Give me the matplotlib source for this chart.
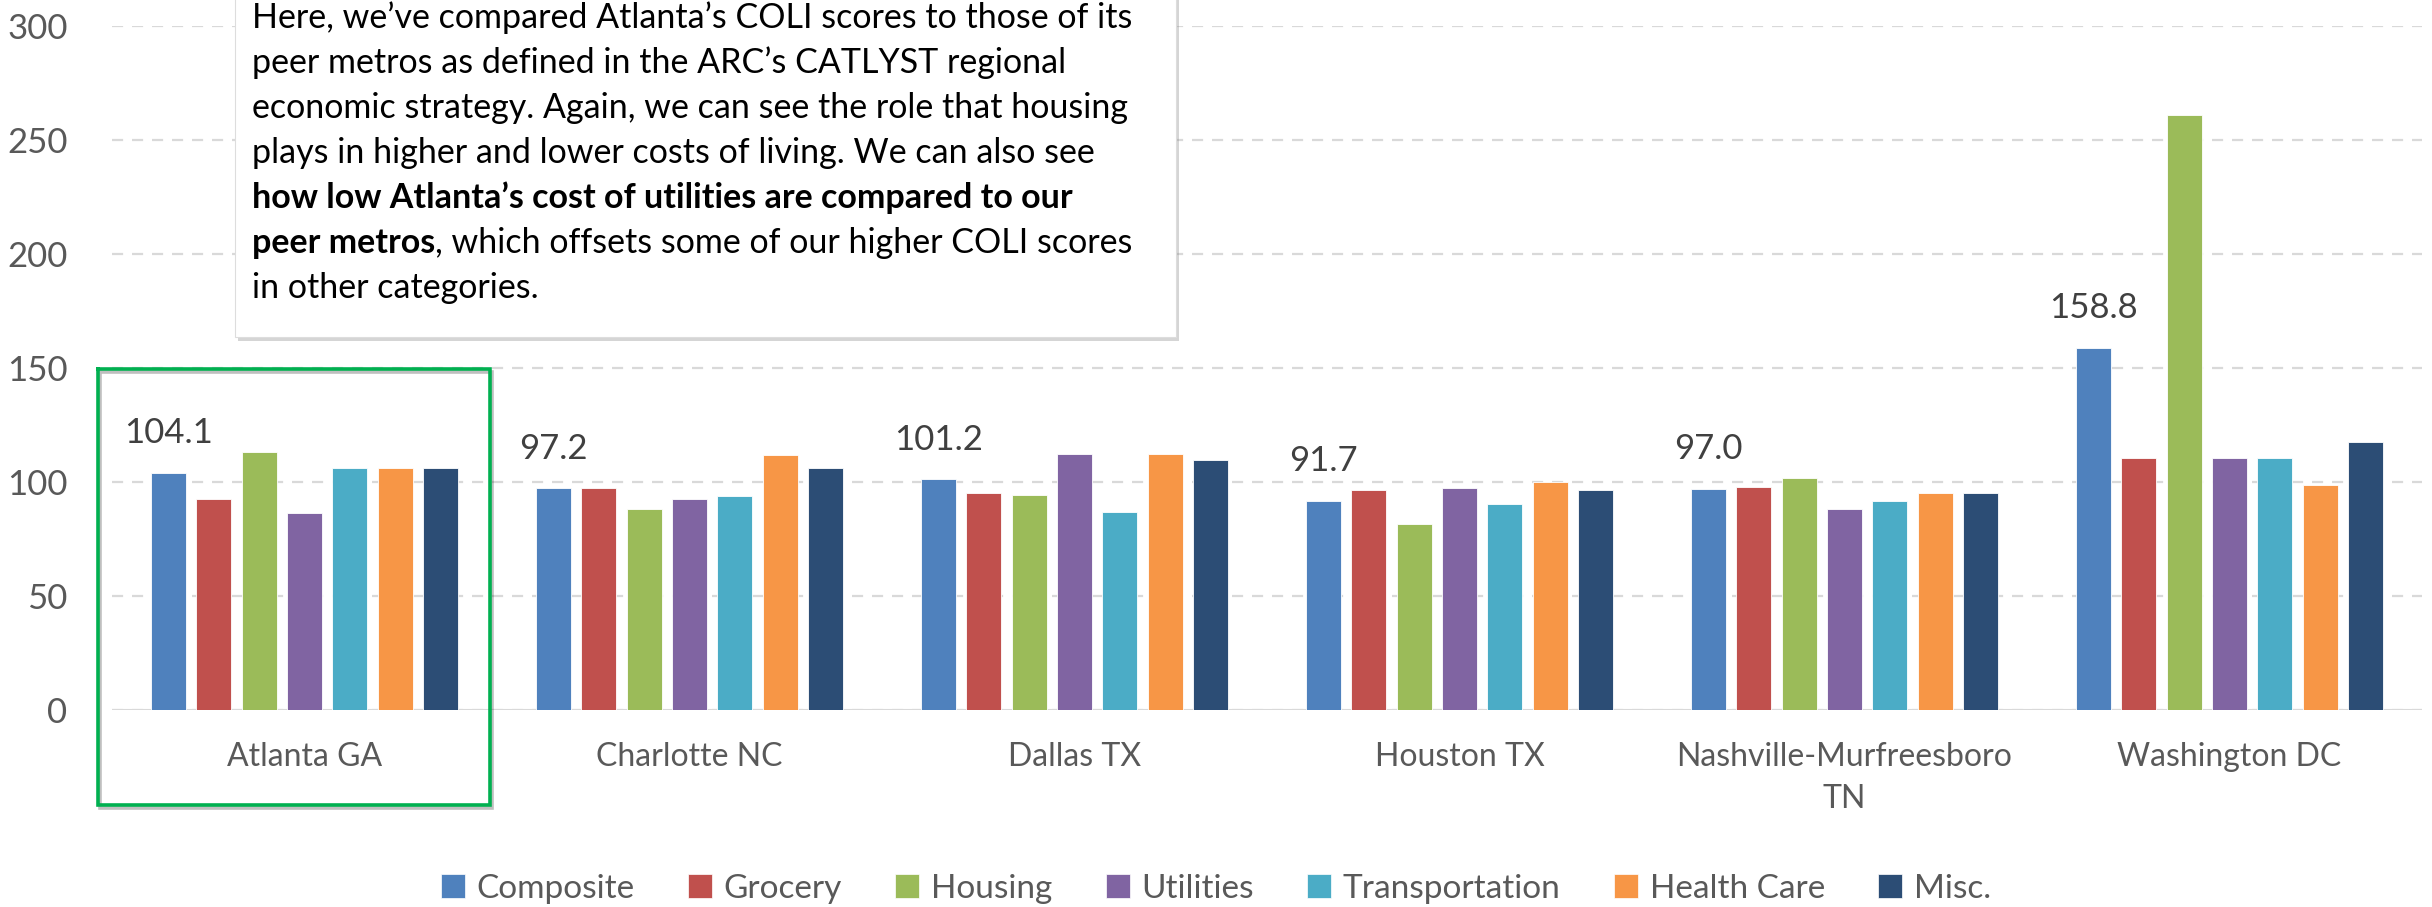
import numpy as np
import matplotlib
matplotlib.use("Agg")
import matplotlib.pyplot as plt
import matplotlib.patheffects as pe
from matplotlib.patches import Rectangle, Patch
from matplotlib.lines import Line2D

plt.rcParams['font.family'] = ['Lato', 'DejaVu Sans']

metros = ["Atlanta GA", "Charlotte NC", "Dallas TX", "Houston TX",
          "Nashville-Murfreesboro\nTN", "Washington DC"]
series = ["Composite", "Grocery", "Housing", "Utilities",
          "Transportation", "Health Care", "Misc."]
composite = [104.1, 97.2, 101.2, 91.7, 97.0, 158.8]
grocery = [92.4, 97.4, 95.3, 96.5, 97.8, 110.7]
housing = [113.1, 88.3, 94.5, 81.6, 101.9, 260.9]
utilities = [86.3, 92.4, 112.4, 97.4, 88.1, 110.7]
transportation = [106.3, 93.9, 86.9, 90.5, 91.5, 110.7]
health_care = [106.3, 111.7, 112.4, 100.0, 95.0, 98.6]
misc = [106.3, 106.3, 109.8, 96.5, 95.0, 117.6]
colors = ["#4F81BD", "#C0504D", "#9BBB59", "#8064A2",
          "#4BACC6", "#F79646", "#2C4D75"]

note_lines = [
    "Here, we\u2019ve compared Atlanta\u2019s COLI scores to those of its",
    "peer metros as defined in the ARC\u2019s CATLYST regional",
    "economic strategy. Again, we can see the role that housing",
    "plays in higher and lower costs of living. We can also see",
]
note_bold = "how low Atlanta\u2019s cost of utilities are compared to our"
note_bold2 = "peer metros"
note_rest = ", which offsets some of our higher COLI scores"
note_last = "in other categories."

W, H = 2432, 907
fig = plt.figure(figsize=(W / 100, H / 100), dpi=100)
ax = fig.add_axes([112 / W, 197 / H, 2310 / W, 684 / H])

data = [composite, grocery, housing, utilities, transportation, health_care, misc]
x = np.arange(len(metros))
pitch = 0.118
width = 0.091
conts = []
for i, vals in enumerate(data):
    c = ax.bar(x + (i - 3) * pitch, vals, width, color=colors[i],
               edgecolor='white', linewidth=0.6, zorder=3, label=series[i])
    conts.append(c)

ax.bar_label(conts[0], labels=["%.1f" % v for v in composite], padding=17,
             fontsize=25, color='#404040')

ax.set_xlim(-0.5, len(metros) - 0.5)
ax.set_ylim(0, 300)
ax.set_yticks(range(0, 301, 50))
ax.set_xticks(x)
ax.set_xticklabels(metros, linespacing=1.5)
ax.tick_params(axis='y', length=0, pad=32, labelsize=25, labelcolor='#595959')
ax.tick_params(axis='x', length=0, pad=23, labelsize=23, labelcolor='#595959')
for s in ax.spines.values():
    s.set_visible(False)
ax.yaxis.grid(True, color='#d9d9d9', linestyle=(0, (5, 4)), linewidth=1.6, zorder=0)
ax.set_axisbelow(True)
ax.axhline(0, color='#d9d9d9', linewidth=2.2, zorder=2)

# note box
box = Rectangle((235 / W, 1 - 337 / H), (1176 - 235) / W, 360 / H,
                transform=fig.transFigure, facecolor='white', edgecolor='#dddddd',
                linewidth=0.8, zorder=5,
                path_effects=[pe.withSimplePatchShadow(offset=(2, -3), shadow_rgbFace='#888888', alpha=0.35)])
fig.add_artist(box)

fs = 24.5
tx = 252 / W
base = 28
step = 45
for k, line in enumerate(note_lines):
    fig.text(tx, 1 - (base + k * step) / H, line, fontsize=fs, color='black',
             va='baseline', zorder=6)
fig.text(tx, 1 - (base + 4 * step) / H, note_bold, fontsize=fs, color='black',
         fontweight='bold', va='baseline', zorder=6)
t1 = fig.text(tx, 1 - (base + 5 * step) / H, note_bold2, fontsize=fs, color='black',
              fontweight='bold', va='baseline', zorder=6)
fig.canvas.draw()
bb = t1.get_window_extent()
fig.text(bb.x1 / W, 1 - (base + 5 * step) / H, note_rest, fontsize=fs, color='black',
         va='baseline', zorder=6)
fig.text(tx, 1 - (base + 6 * step) / H, note_last, fontsize=fs, color='black',
         va='baseline', zorder=6)

# highlight box around Atlanta
gx = [98 / W, 490 / W, 490 / W, 98 / W, 98 / W]
gy = [1 - 369 / H, 1 - 369 / H, 1 - 805 / H, 1 - 805 / H, 1 - 369 / H]
fig.add_artist(Line2D(gx, gy, transform=fig.transFigure, color='#00B050', linewidth=2.6,
                      zorder=6, solid_joinstyle='miter',
                      path_effects=[pe.SimpleLineShadow(offset=(1.5, -2.5), alpha=0.25), pe.Normal()]))

handles = [Patch(facecolor=colors[i], edgecolor='white', linewidth=0.5) for i in range(7)]
leg = fig.legend(handles, series, ncol=7, loc='center', bbox_to_anchor=(0.5, 1 - 889 / H),
                 frameon=False, fontsize=24, handlelength=0.72, handleheight=0.72,
                 handletextpad=0.35, columnspacing=1.6, labelcolor='#595959')

fig.savefig("out.png", dpi=100)
